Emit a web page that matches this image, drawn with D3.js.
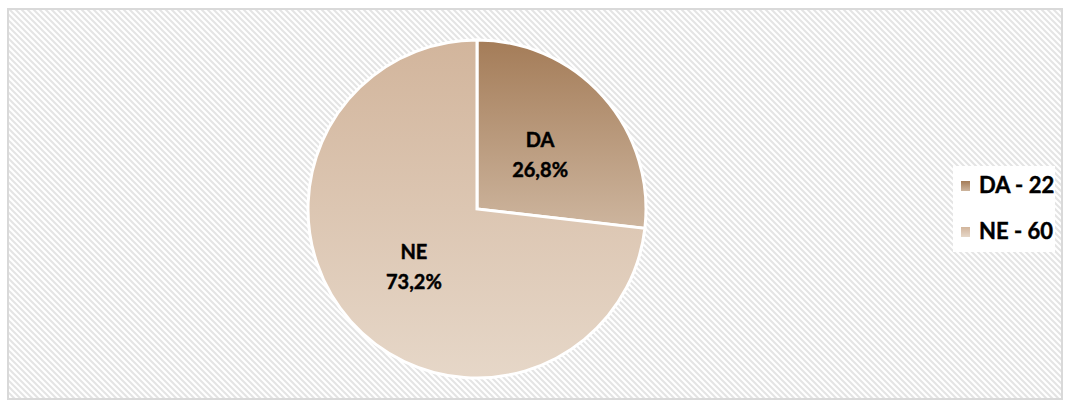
<!DOCTYPE html>
<meta charset="utf-8">
<style>
  body { margin: 0; background: #fff; }
  text { font-family: Lato, "Open Sans", sans-serif; font-weight: bold; stroke: #000; stroke-width: 0.45px; }
</style>
<script src="https://d3js.org/d3.v7.min.js"></script>
<div id="chart"></div>
<script>
    // data
    const categories = ["DA", "NE"];
    const counts = [22, 60];
    const topColors = ["#a47c58", "#d2b59c"];
    const bottomColors = ["#cdb59e", "#e6d7c8"];

    const W = 1065, H = 402;
    const cx = 477, cy = 209, radius = 169;

    const svg = d3.select("#chart").append("svg")
        .attr("width", W).attr("height", H);

    const defs = svg.append("defs");

    // diagonal hatch background
    const pat = defs.append("pattern")
        .attr("id", "hatch")
        .attr("patternUnits", "userSpaceOnUse")
        .attr("width", 6).attr("height", 6);
    pat.append("rect").attr("width", 6).attr("height", 6).attr("fill", "#fff");
    pat.append("path")
        .attr("d", "M-1,-1 L7,7 M-4,2 L4,10 M2,-4 L10,4")
        .attr("stroke", "#e4e4e4").attr("stroke-width", 2);

    categories.forEach(function (c, i) {
        const g = defs.append("linearGradient")
            .attr("id", "grad" + i)
            .attr("x1", 0).attr("y1", 0).attr("x2", 0).attr("y2", 1);
        g.append("stop").attr("offset", "0%").attr("stop-color", topColors[i]);
        g.append("stop").attr("offset", "100%").attr("stop-color", bottomColors[i]);
    });

    svg.append("rect")
        .attr("x", 8).attr("y", 9)
        .attr("width", 1054).attr("height", 390)
        .attr("fill", "url(#hatch)")
        .attr("stroke", "#d9d9d9").attr("stroke-width", 2);

    const total = d3.sum(counts);
    const pie = d3.pie().sort(null).value(function (d) { return d; });
    const arcs = pie(counts);
    const arc = d3.arc().innerRadius(0).outerRadius(radius);
    const labelArc = d3.arc().innerRadius(radius * 0.5).outerRadius(radius * 0.5);

    const g = svg.append("g").attr("transform", "translate(" + cx + "," + cy + ")");

    g.selectAll("path.slice")
        .data(arcs)
        .enter()
        .append("path")
        .attr("class", "slice")
        .attr("d", arc)
        .attr("fill", function (d, i) { return "url(#grad" + i + ")"; })
        .attr("stroke", "#fff")
        .attr("stroke-width", 3)
        .attr("stroke-linejoin", "miter");

    const fmt = function (v) { return (v / total * 100).toFixed(1).replace(".", ",") + "%"; };

    const labels = g.selectAll("text.lbl")
        .data(arcs)
        .enter()
        .append("text")
        .attr("class", "lbl")
        .attr("transform", function (d) { return "translate(" + labelArc.centroid(d) + ")"; })
        .attr("text-anchor", "middle")
        .attr("font-size", "20px")
        .attr("fill", "#000");
    labels.append("tspan").attr("x", 0).attr("y", -6).text(function (d, i) { return categories[i]; });
    labels.append("tspan").attr("x", 0).attr("y", 24).text(function (d) { return fmt(d.data); });

    // legend
    const legend = svg.append("g");
    legend.append("rect")
        .attr("x", 953).attr("y", 166)
        .attr("width", 102).attr("height", 86)
        .attr("fill", "#fff");

    const items = legend.selectAll("g.item")
        .data(categories)
        .enter()
        .append("g")
        .attr("class", "item")
        .attr("transform", function (d, i) { return "translate(961," + (181 + i * 46) + ")"; });
    items.append("rect")
        .attr("width", 9).attr("height", 10)
        .attr("fill", function (d, i) { return "url(#grad" + i + ")"; });
    items.append("text")
        .attr("x", 18).attr("y", 12)
        .attr("font-size", "22px")
        .attr("fill", "#000")
        .text(function (d, i) { return d + " - " + counts[i]; });
</script>
